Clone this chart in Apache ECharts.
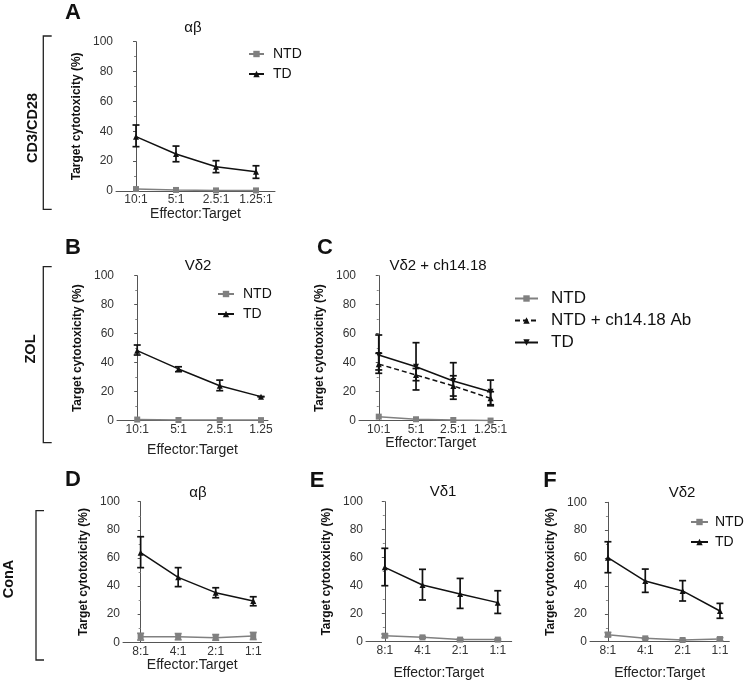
<!DOCTYPE html>
<html><head><meta charset="utf-8">
<script src="https://cdn.jsdelivr.net/npm/echarts@6/dist/echarts.min.js"></script>
<style>html,body{margin:0;padding:0;background:#fff}#c{width:747px;height:683px}</style>
</head><body><div id="c"></div>
<script>
// ---------- data ----------
const catsA = ['10:1', '5:1', '2.5:1', '1.25:1'];
const catsB = ['10:1', '5:1', '2.5:1', '1.25'];
const catsC = ['10:1', '5:1', '2.5:1', '1.25:1'];
const catsDEF = ['8:1', '4:1', '2:1', '1:1'];
const yTicks = [0, 20, 40, 60, 80, 100];

// Panel A (CD3/CD28, αβ)
const A_TD = [36.4, 24.8, 16.3, 12.9];
const A_TD_lo = [29.7, 19.6, 12.3, 8.5];
const A_TD_hi = [44.2, 30.1, 20.3, 16.9];
const A_NTD = [1.3, 0.7, 0.4, 0.4];

// Panel B (ZOL, Vδ2)
const B_TD = [48.3, 35.7, 24.1, 16.6];
const B_TD_lo = [45.3, 33.8, 20.7, 16.6];
const B_TD_hi = [52.2, 37.2, 28.0, 16.6];
const B_NTD = [0.8, 0.5, 0.4, 0.4];

// Panel C (ZOL, Vδ2 + ch14.18)
const C_NTD = [2.8, 1.0, 0.5, 0.1];
const C_AB = [39.0, 31.5, 24.0, 15.4];
const C_AB_lo = [35.0, 27.6, 17.0, 11.0];
const C_AB_hi = [46.5, 36.0, 31.0, 20.0];
const C_TD = [45.3, 37.2, 27.4, 20.0];
const C_TD_lo = [32.7, 21.2, 14.8, 10.3];
const C_TD_hi = [59.1, 53.8, 40.0, 28.0];

// Panel D (ConA, αβ)
const D_TD = [63.7, 46.2, 35.3, 29.4];
const D_TD_lo = [53.1, 39.6, 31.7, 26.0];
const D_TD_hi = [75.1, 53.1, 38.8, 32.4];
const D_NTD = [4.0, 4.0, 3.3, 4.5];
const D_NTD_lo = [1.6, 1.8, 1.5, 2.0];
const D_NTD_hi = [6.4, 6.2, 5.5, 7.0];

// Panel E (ConA, Vδ1)
const E_TD = [53.1, 40.5, 34.0, 27.9];
const E_TD_lo = [40.0, 29.8, 23.8, 20.2];
const E_TD_hi = [66.7, 51.7, 45.2, 36.4];
const E_NTD = [4.3, 3.1, 1.5, 1.5];
const E_NTD_lo = [3.0, 2.5, 1.0, 1.0];
const E_NTD_hi = [5.5, 3.6, 2.0, 2.0];

// Panel F (ConA, Vδ2)
const F_TD = [60.3, 43.5, 36.4, 22.0];
const F_TD_lo = [49.5, 35.4, 29.2, 16.8];
const F_TD_hi = [71.7, 52.1, 43.8, 27.5];
const F_NTD = [5.0, 2.4, 1.2, 1.9];
const F_NTD_lo = [3.6, 2.0, 0.8, 0.7];
const F_NTD_hi = [6.6, 2.8, 1.6, 2.9];

// ---------- styling ----------
const BLACK = '#111';
const GRAY = '#808080';
const FONT = 'Liberation Sans, Arial, sans-serif';

const panels = [
  {id:'A', cats:catsA, grid:{left:116, top:41.7, width:159, height:149.3}, xmin:-0.5, xmax:3.475, xGap:15},
  {id:'B', cats:catsB, grid:{left:117, top:275.7, width:151, height:145}, xmin:-0.49, xmax:3.17, xGap:22},
  {id:'C', cats:catsC, grid:{left:359, top:275.7, width:143.5, height:145}, xmin:-0.53, xmax:3.32, xGap:12},
  {id:'D', cats:catsDEF, grid:{left:123, top:501.7, width:138.5, height:140.6}, xmin:-0.47, xmax:3.22, xGap:11},
  {id:'E', cats:catsDEF, grid:{left:366, top:501.7, width:145.7, height:140}, xmin:-0.5, xmax:3.37, xGap:24},
  {id:'F', cats:catsDEF, grid:{left:590, top:502.3, width:139.3, height:139.4}, xmin:-0.48, xmax:3.25, xGap:24}
];

const grids = [], xAxes = [], yAxes = [], series = [];
panels.forEach((p, i) => {
  grids.push(Object.assign({containLabel:false}, p.grid));
  const cats = p.cats;
  xAxes.push({
    type:'value', gridIndex:i, min:p.xmin, max:p.xmax,
    name:'Effector:Target', nameLocation:'middle', nameGap:p.xGap,
    nameTextStyle:{fontFamily:FONT, fontSize:14, color:'#222'},
    axisLine:{show:true, onZero:false, lineStyle:{color:'#555', width:1}},
    axisTick:{show:false},
    splitLine:{show:false},
    axisLabel:{customValues:[0,1,2,3], formatter:v => cats[Math.round(v)], fontFamily:FONT, fontSize:12, color:'#333', margin:3}
  });
  yAxes.push({
    type:'value', gridIndex:i, min:yTicks[0], max:yTicks[yTicks.length-1], interval:20,
    name:'Target cytotoxicity (%)', nameLocation:'middle', nameGap:33,
    nameTextStyle:{fontFamily:FONT, fontSize:12, fontWeight:'bold', color:'#111'},
    axisLine:{show:true, lineStyle:{color:'#555', width:1}},
    axisTick:{show:true, length:3, lineStyle:{color:'#555'}},
    minorTick:{show:true, splitNumber:2, length:2, lineStyle:{color:'#888'}},
    splitLine:{show:false},
    axisLabel:{fontFamily:FONT, fontSize:12, color:'#333', margin:3}
  });
});

function pts(arr){ return arr.map((v, k) => [k, v]); }
function errs(lo, hi){ return lo.map((v, k) => [k, v, hi[k]]); }

function lineSeries(name, idx, data, color, symbol, opts){
  return Object.assign({
    name:name, type:'line', xAxisIndex:idx, yAxisIndex:idx, data:pts(data),
    symbol:symbol, symbolSize:6, showSymbol:true,
    lineStyle:{color:color, width:1.5},
    itemStyle:{color:color},
    emphasis:{disabled:true}, animation:false, z:3
  }, opts || {});
}
function errSeries(idx, lo, hi, color){
  return {
    type:'custom', xAxisIndex:idx, yAxisIndex:idx, data:errs(lo, hi), animation:false, z:4,
    renderItem:function(params, api){
      const x = api.value(0);
      const a = api.coord([x, api.value(1)]);
      const b = api.coord([x, api.value(2)]);
      const hw = 3.5;
      const st = {stroke:color, lineWidth:1.7};
      return {type:'group', children:[
        {type:'line', shape:{x1:a[0], y1:a[1], x2:b[0], y2:b[1]}, style:st},
        {type:'line', shape:{x1:a[0]-hw, y1:a[1], x2:a[0]+hw, y2:a[1]}, style:st},
        {type:'line', shape:{x1:b[0]-hw, y1:b[1], x2:b[0]+hw, y2:b[1]}, style:st}
      ]};
    }
  };
}

// A
series.push(lineSeries('A|NTD', 0, A_NTD, GRAY, 'rect'));
series.push(lineSeries('A|TD', 0, A_TD, BLACK, 'triangle'));
series.push(errSeries(0, A_TD_lo, A_TD_hi, BLACK));
// B
series.push(lineSeries('B|NTD', 1, B_NTD, GRAY, 'rect'));
series.push(lineSeries('B|TD', 1, B_TD, BLACK, 'triangle'));
series.push(errSeries(1, B_TD_lo, B_TD_hi, BLACK));
// C
series.push(lineSeries('C|NTD', 2, C_NTD, GRAY, 'rect'));
series.push(lineSeries('C|NTD + ch14.18 Ab', 2, C_AB, BLACK, 'triangle', {lineStyle:{color:BLACK, width:1.5, type:[5,3]}}));
series.push(lineSeries('C|TD', 2, C_TD, BLACK, 'triangle', {symbolRotate:180}));
series.push(errSeries(2, C_AB_lo, C_AB_hi, BLACK));
series.push(errSeries(2, C_TD_lo, C_TD_hi, BLACK));
// D
series.push(lineSeries('D|NTD', 3, D_NTD, GRAY, 'rect'));
series.push(lineSeries('D|TD', 3, D_TD, BLACK, 'triangle'));
series.push(errSeries(3, D_NTD_lo, D_NTD_hi, GRAY));
series.push(errSeries(3, D_TD_lo, D_TD_hi, BLACK));
// E
series.push(lineSeries('E|NTD', 4, E_NTD, GRAY, 'rect'));
series.push(lineSeries('E|TD', 4, E_TD, BLACK, 'triangle'));
series.push(errSeries(4, E_NTD_lo, E_NTD_hi, GRAY));
series.push(errSeries(4, E_TD_lo, E_TD_hi, BLACK));
// F
series.push(lineSeries('F|NTD', 5, F_NTD, GRAY, 'rect'));
series.push(lineSeries('F|TD', 5, F_TD, BLACK, 'triangle'));
series.push(errSeries(5, F_NTD_lo, F_NTD_hi, GRAY));
series.push(errSeries(5, F_TD_lo, F_TD_hi, BLACK));

function legend(names, left, top, itemWidth, gap, fontSize, pad){
  return {
    data:names, orient:'vertical', left:left, top:top, itemWidth:itemWidth, itemHeight:8,
    itemGap:gap, selectedMode:false, padding:0,
    formatter:n => n.split('|')[1],
    textStyle:{fontFamily:FONT, fontSize:fontSize, color:'#111', padding:[0,0,0,pad]}
  };
}

const legends = [
  legend(['A|NTD','A|TD'], 248, 47, 15, 6, 14, 4),
  legend(['B|NTD','B|TD'], 217, 287, 16, 6, 14, 4),
  legend(['C|NTD','C|NTD + ch14.18 Ab','C|TD'], 514, 290, 23, 5, 17, 8),
  legend(['F|NTD','F|TD'], 690, 515, 17, 6, 14, 2)
];

function txt(s, x, y, size, weight, rot){
  return {type:'text', x:x, y:y, rotation:rot || 0,
    style:{text:s, fontFamily:FONT, fontSize:size, fontWeight:weight || 'normal', fill:'#111', align:'center', verticalAlign:'middle'}};
}
function bracket(x, y1, y2, tick){
  return {type:'polyline', shape:{points:[[x+tick, y1],[x, y1],[x, y2],[x+tick, y2]]},
    style:{stroke:'#222', lineWidth:1.3, fill:null}};
}

const graphics = [
  txt('A', 73, 13, 22, 'bold'), txt('B', 73, 248, 22, 'bold'), txt('C', 325, 248, 22, 'bold'),
  txt('D', 73, 480, 22, 'bold'), txt('E', 317, 481, 22, 'bold'), txt('F', 550, 481, 22, 'bold'),
  txt('αβ', 193, 28, 15), txt('Vδ2', 198, 266, 15), txt('Vδ2 + ch14.18', 438, 266, 15),
  txt('αβ', 198, 493, 15), txt('Vδ1', 443, 492, 15), txt('Vδ2', 682, 493, 15),
  bracket(43.3, 36, 209.3, 8.4), bracket(43.3, 266.7, 442.7, 8.4), bracket(36, 510.7, 660, 8),
  txt('CD3/CD28', 33, 128, 14.5, 'bold', Math.PI/2),
  txt('ZOL', 31, 349, 14.5, 'bold', Math.PI/2),
  txt('ConA', 9, 579, 14.5, 'bold', Math.PI/2)
];

const chart = echarts.init(document.getElementById('c'), null, {renderer:'canvas'});
chart.setOption({
  backgroundColor:'#fff', animation:false,
  grid:grids, xAxis:xAxes, yAxis:yAxes, series:series, legend:legends,
  graphic:graphics
});
</script></body></html>
